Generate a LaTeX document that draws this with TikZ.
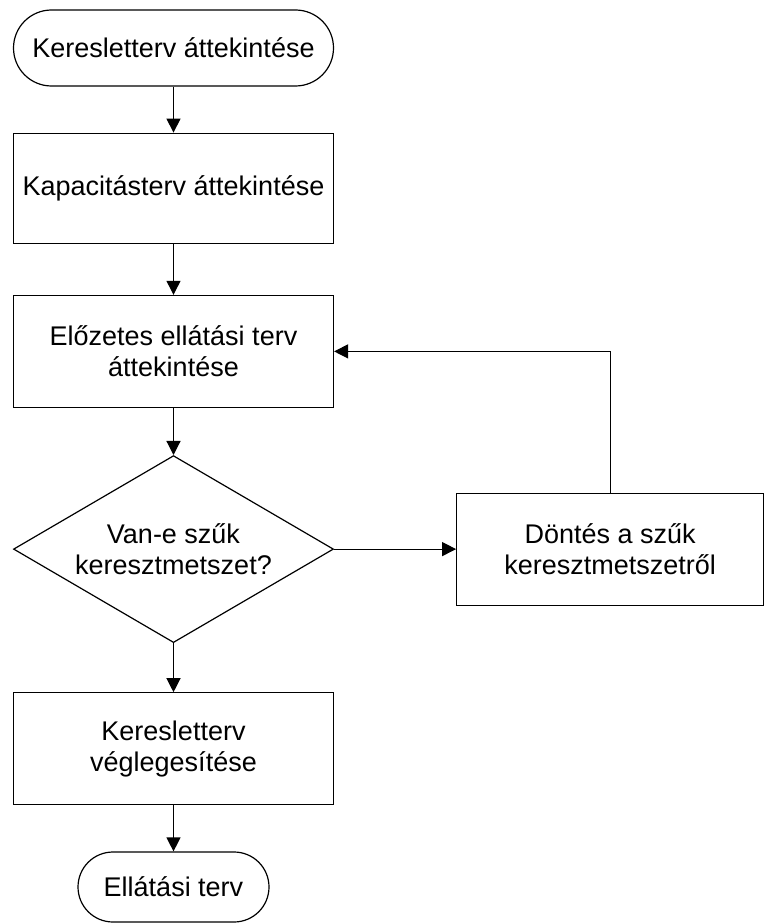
\documentclass[tikz,border=0pt]{standalone}
\usepackage{fontspec}
\setmainfont{Liberation Sans}
\usetikzlibrary{arrows.meta, positioning, shapes.geometric}

\tikzset{
  base/.style={draw=black, line width=1.2pt, align=center, inner sep=0pt,
    font=\fontsize{27}{31}\selectfont},
  terminal/.style={base, rectangle, rounded corners=36pt, minimum height=72pt},
  process/.style={base, rectangle, minimum width=320pt, minimum height=112pt},
  decision/.style={base, diamond, aspect=1.71, minimum width=320pt, minimum height=187pt},
  flow/.style={line width=1.2pt, -{Triangle[length=14pt, width=14pt]}}
}

\begin{document}
\begin{tikzpicture}[x=1pt, y=1pt]
  \useasboundingbox (0,0) rectangle (763,-923);

  % main column
  \node[terminal, minimum width=320pt, minimum height=76pt, rounded corners=38pt] (start) at (173.5,-48) {Keresletterv áttekintése};
  \node[process, minimum height=110pt, below=46pt of start] (capacity) {Kapacitásterv áttekintése};
  \node[process, below=51pt of capacity] (prelim) {Előzetes ellátási terv\\áttekintése};
  \node[decision, below=47pt of prelim] (check) {Van-e szűk\\keresztmetszet?};
  \node[process, below=49pt of check] (finalize) {Keresletterv\\véglegesítése};
  \node[terminal, minimum width=191pt, minimum height=70pt, rounded corners=35pt, below=46pt of finalize] (stop) {Ellátási terv};

  % side branch
  \node[process, minimum width=307pt, right=122pt of check] (decide) {Döntés a szűk\\keresztmetszetről};

  \draw[flow] (start) -- (capacity);
  \draw[flow] (capacity) -- (prelim);
  \draw[flow] (prelim) -- (check);
  \draw[flow] (check) -- (finalize);
  \draw[flow] (finalize) -- (stop);
  \draw[flow] (check) -- (decide);
  \draw[flow] (decide.north) |- (prelim.east);
\end{tikzpicture}
\end{document}
